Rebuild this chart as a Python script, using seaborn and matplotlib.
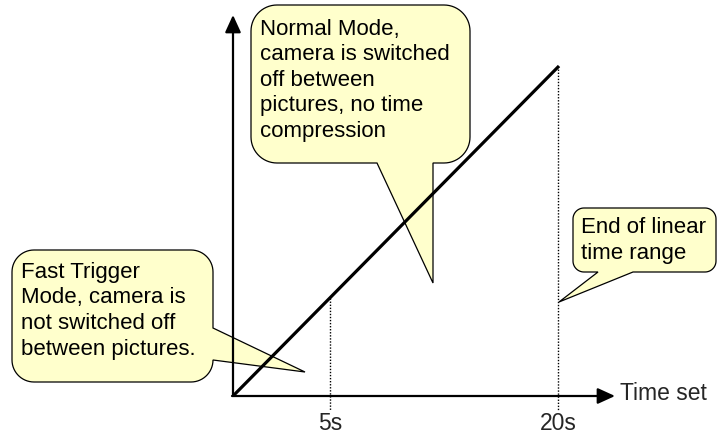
import numpy as np
import matplotlib
matplotlib.use("Agg")
import matplotlib.pyplot as plt
from matplotlib.patches import Polygon
import seaborn as sns

sns.set_theme(style="white")
plt.rcParams['font.family'] = ['Liberation Sans', 'DejaVu Sans']

# ---- schematic data (pixel-space coordinates of the diagram) ----
W, H = 717, 438
origin = (233, 396)
y_axis_top = 15
x_axis_right = 615
line_x = [233, 559]          # linear time range line
line_y = [396, 66]
tick_x = [330, 558]
tick_labels = ["5s", "20s"]
tick_top = [298, 66]         # where the dotted guides start
axis_label = "Time set"

callout_texts = [
    "Fast Trigger\nMode, camera is\nnot switched off\nbetween pictures.",
    "Normal Mode,\ncamera is switched\noff between\npictures, no time\ncompression",
    "End of linear\ntime range",
]
# box: x0, y0, x1, y1, radius, side, base1, base2, tip
callout_boxes = [
    (12, 250, 213, 382, 22, "right", 328, 360, (305, 372)),
    (251, 5, 470, 163, 26, "bottom", 377, 433, (433, 283)),
    (573, 208, 716, 272, 11, "bottom", 598, 633, (559, 302)),
]
callout_text_pos = [(21, 278), (260, 35), (581, 233)]
line_step = 25.5

fig = plt.figure(figsize=(W / 100, H / 100), dpi=100)
ax = fig.add_axes([0, 0, 1, 1])
ax.set_xlim(0, W)
ax.set_ylim(H, 0)
ax.axis("off")


def arc(cx, cy, r, t0, t1, n=16):
    t = np.linspace(t0, t1, n)
    return list(zip(cx + r * np.cos(t), cy + r * np.sin(t)))


def callout_path(x0, y0, x1, y1, r, side, b1, b2, tip):
    pts = []
    pts += arc(x1 - r, y0 + r, r, -np.pi / 2, 0)
    if side == "right":
        pts += [(x1, b1), tip, (x1, b2)]
    pts += arc(x1 - r, y1 - r, r, 0, np.pi / 2)
    if side == "bottom":
        pts += [(b2, y1), tip, (b1, y1)]
    pts += arc(x0 + r, y1 - r, r, np.pi / 2, np.pi)
    pts += arc(x0 + r, y0 + r, r, np.pi, 1.5 * np.pi)
    return pts


for box in callout_boxes:
    pts = callout_path(*box)
    ax.add_patch(Polygon(pts, closed=True, facecolor="#FFFFCC",
                         edgecolor="black", lw=0.9, zorder=2, joinstyle="miter"))

for txt, (tx, ty) in zip(callout_texts, callout_text_pos):
    for i, ln in enumerate(txt.split("\n")):
        ax.text(tx, ty + i * line_step, ln, fontsize=16, va="baseline",
                ha="left", color="black", zorder=5)

# dotted guides
for x, top in zip(tick_x, tick_top):
    ax.plot([x, x], [top, 410], color="black", lw=1.0,
            linestyle=(0, (1, 1.2)), zorder=3)

# linear line
sns.lineplot(x=line_x, y=line_y, ax=ax, color="black", lw=2.3,
             zorder=4, sort=False, solid_capstyle="butt")

# axes arrows
ap = dict(arrowstyle="-|>,head_length=1.05,head_width=0.48", lw=1.6,
          color="black", shrinkA=0, shrinkB=0, mutation_scale=10)
ax.annotate("", xy=(origin[0], y_axis_top), xytext=origin, arrowprops=ap, zorder=4)
ax.annotate("", xy=(x_axis_right, origin[1]), xytext=(origin[0] - 1, origin[1]),
            arrowprops=ap, zorder=4)

for x, lab in zip(tick_x, tick_labels):
    ax.text(x, 430, lab, fontsize=16.5, ha="center", va="baseline")
ax.text(620, 400, axis_label, fontsize=16.5, ha="left", va="baseline")

fig.savefig("out.png", dpi=100)
